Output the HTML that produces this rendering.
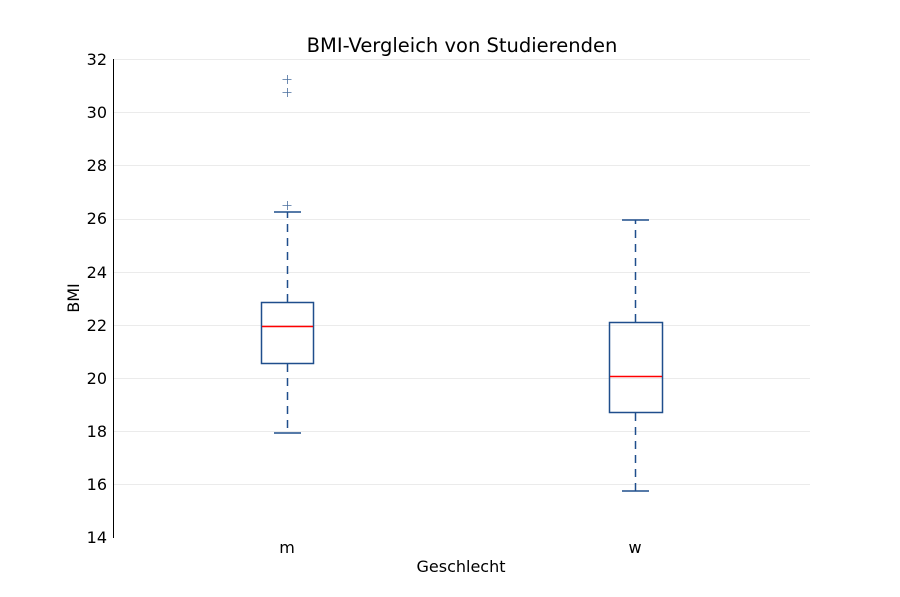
<!DOCTYPE html>
<html><head><meta charset="utf-8"><style>body{margin:0;background:#fff}svg{display:block}text{font-family:"DejaVu Sans","Liberation Sans",sans-serif;fill:#000}</style></head><body>
<svg width="900" height="597" viewBox="0 0 900 597">
<g stroke="#ebebeb" stroke-width="1">
<line x1="113" x2="810" y1="484.5" y2="484.5"/><line x1="113" x2="810" y1="431.5" y2="431.5"/><line x1="113" x2="810" y1="378.5" y2="378.5"/><line x1="113" x2="810" y1="325.5" y2="325.5"/><line x1="113" x2="810" y1="272.5" y2="272.5"/><line x1="113" x2="810" y1="219.5" y2="219.5"/><line x1="113" x2="810" y1="165.5" y2="165.5"/><line x1="113" x2="810" y1="112.5" y2="112.5"/><line x1="113" x2="810" y1="59.5" y2="59.5"/>
</g>
<line x1="113.5" x2="113.5" y1="59" y2="538" stroke="#000" stroke-width="1"/>
<g font-size="16" text-anchor="end">
<text x="107" y="543">14</text><text x="107" y="490">16</text><text x="107" y="437">18</text><text x="107" y="384">20</text><text x="107" y="331">22</text><text x="107" y="278">24</text><text x="107" y="224">26</text><text x="107" y="171">28</text><text x="107" y="118">30</text><text x="107" y="65">32</text>
</g>
<text x="462" y="52" font-size="19.5" text-anchor="middle">BMI-Vergleich von Studierenden</text>
<text x="79" y="298" font-size="16" text-anchor="middle" transform="rotate(-90 79 298)">BMI</text>
<text x="287" y="553" font-size="16" text-anchor="middle">m</text>
<text x="635" y="553" font-size="16" text-anchor="middle">w</text>
<text x="461" y="572" font-size="16" text-anchor="middle">Geschlecht</text>
<g stroke="#1f4e8c" stroke-width="1.5" fill="none">
<rect x="261.5" y="302.5" width="52" height="61"/>
<line x1="287.5" x2="287.5" y1="302" y2="212" stroke-dasharray="8,6"/>
<line x1="287.5" x2="287.5" y1="364" y2="433" stroke-dasharray="8,6"/>
<line x1="274" x2="301" y1="212" y2="212"/><line x1="274" x2="301" y1="433" y2="433"/>
<rect x="609.5" y="322.5" width="53" height="90"/>
<line x1="635.5" x2="635.5" y1="322" y2="220" stroke-dasharray="8,6"/>
<line x1="635.5" x2="635.5" y1="413" y2="491" stroke-dasharray="8,6"/>
<line x1="622" x2="649" y1="220" y2="220"/><line x1="622" x2="649" y1="491" y2="491"/>
</g>
<g stroke="#4a6f9e" stroke-width="0.8">
<path d="M282.5 79.5h9M287.5 75v9M282.5 92.5h9M287.5 88v9M282.5 205.5h9M287.5 201v9"/>
</g>
<line x1="262" x2="313" y1="326.5" y2="326.5" stroke="#f00" stroke-width="1.5"/>
<line x1="610" x2="662" y1="376.5" y2="376.5" stroke="#f00" stroke-width="1.5"/>
</svg>
</body></html>
